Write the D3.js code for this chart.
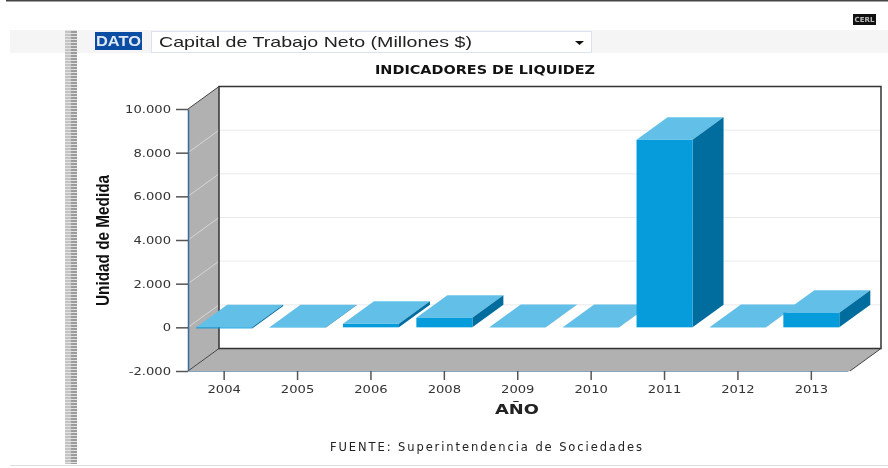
<!DOCTYPE html>
<html>
<head>
<meta charset="utf-8">
<script src="https://cdnjs.cloudflare.com/ajax/libs/d3/7.8.5/d3.min.js"></script>
<style>
  html, body { margin: 0; padding: 0; background: #fff; overflow: hidden; }
  svg { display: block; filter: blur(0.45px); }
  text { font-family: "DejaVu Sans", sans-serif; }
</style>
</head>
<body>
<svg id="chart" width="888" height="468"></svg>
<script>
// Chart data
const years = ["2004", "2005", "2006", "2008", "2009", "2010", "2011", "2012", "2013"];
const values = [-50, -15, 160, 440, 15, 15, 8590, 15, 670];
const yTicks = [-2000, 0, 2000, 4000, 6000, 8000, 10000];
const tickLabels = ["-2.000", "0", "2.000", "4.000", "6.000", "8.000", "10.000"];

const svg = d3.select("#chart");

// Scales, front plane of the 3d box
const x = d3.scaleBand().domain(years).range([187.5, 848]).paddingInner(0.237).paddingOuter(0.118);
const y = d3.scaleLinear().domain([-2000, 10000]).range([371, 109]);

// Depth of the box
const dx = 31;
const dy = -22.5;
const wallColor = "#b1b1b1";

// Squeeze or stretch a text to a given width
const fit = (sel, len) => sel.attr("textLength", len).attr("lengthAdjust", "spacingAndGlyphs");

// Page furniture
svg.append("rect").attr("x", 6).attr("y", 0).attr("width", 882).attr("height", 1.5).attr("fill", "#444");
svg.append("rect").attr("x", 10).attr("y", 30).attr("width", 878).attr("height", 23).attr("fill", "#f5f5f5");
svg.append("rect").attr("x", 10).attr("y", 465).attr("width", 878).attr("height", 1).attr("fill", "#ddd");

// Striped handle on the left
svg.append("rect").attr("x", 65).attr("y", 30).attr("width", 6).attr("height", 434).attr("fill", "#c4c4c4");
svg.append("rect").attr("x", 71).attr("y", 30).attr("width", 6).attr("height", 434).attr("fill", "#9c9c9c");
svg.selectAll(".stripe")
  .data(d3.range(30, 464, 3))
  .enter().append("rect")
  .attr("class", "stripe")
  .attr("x", 65).attr("y", d => d).attr("width", 12).attr("height", 1)
  .attr("fill", "#e2e2e2");

// Small button top right
svg.append("rect").attr("x", 853).attr("y", 14).attr("width", 23).attr("height", 11).attr("fill", "#111");
svg.append("text").attr("x", 864.5).attr("y", 22).attr("text-anchor", "middle")
  .attr("font-size", 7).attr("font-weight", "bold").attr("fill", "#bbb").text("CERL");

// Selector row
svg.append("rect").attr("x", 95).attr("y", 32).attr("width", 47).attr("height", 18).attr("fill", "#0b4da2");
fit(svg.append("text").attr("x", 96).attr("y", 46)
  .attr("font-size", 14).attr("font-weight", "bold").attr("fill", "#dfe8f5")
  .style("font-family", "Liberation Sans").text("DATO"), 45);
svg.append("rect").attr("x", 151.5).attr("y", 31.5).attr("width", 440).attr("height", 21)
  .attr("fill", "#fff").attr("stroke", "#dde3ee");
fit(svg.append("text").attr("x", 159).attr("y", 47).attr("font-size", 15).attr("fill", "#222")
  .style("font-family", "Liberation Sans").text("Capital de Trabajo Neto (Millones $)"), 313);
svg.append("path").attr("d", "M575,41h9l-4.5,4z").attr("fill", "#111");

// Title
fit(svg.append("text").attr("x", 375).attr("y", 74)
  .attr("font-size", 12.5).attr("font-weight", "bold").attr("fill", "#111")
  .text("INDICADORES DE LIQUIDEZ"), 220);

// Left wall and floor
const x0 = 188, x1 = 850;
const yTop = y(10000), yBot = y(-2000);
svg.append("path")
  .attr("d", `M${x0},${yBot}L${x0},${yTop}L${x0 + dx},${yTop + dy}L${x0 + dx},${yBot + dy}Z`)
  .attr("fill", wallColor);
svg.append("path")
  .attr("d", `M${x0},${yBot}L${x0 + dx},${yBot + dy}L${x1 + dx},${yBot + dy}L${x1},${yBot}Z`)
  .attr("fill", wallColor);

// Back wall
svg.append("rect")
  .attr("x", x0 + dx).attr("y", yTop + dy)
  .attr("width", x1 - x0).attr("height", yBot - yTop)
  .attr("fill", "#fff");

// Grid lines on the back wall and the left wall
const grid = yTicks.slice(1, -1);
svg.selectAll(".grid-back")
  .data(grid)
  .enter().append("line")
  .attr("class", "grid-back")
  .attr("x1", x0 + dx).attr("x2", x1 + dx)
  .attr("y1", d => y(d) + dy).attr("y2", d => y(d) + dy)
  .attr("stroke", "#eaeaea");
svg.selectAll(".grid-side")
  .data(grid)
  .enter().append("line")
  .attr("class", "grid-side")
  .attr("x1", x0).attr("x2", x0 + dx)
  .attr("y1", d => y(d)).attr("y2", d => y(d) + dy)
  .attr("stroke", "#d6d6d6");

// Box outline
svg.append("path")
  .attr("d", `M${x0 + dx},${yBot + dy}V${yTop + dy}H${x1 + dx}V${yBot + dy}Z`)
  .attr("fill", "none").attr("stroke", "#333").attr("stroke-width", 1.5);
svg.append("path")
  .attr("d", `M${x0},${yTop}L${x0 + dx},${yTop + dy}M${x0},${yBot}L${x0 + dx},${yBot + dy}M${x1},${yBot}L${x1 + dx},${yBot + dy}`)
  .attr("stroke", "#444").attr("fill", "none");

// Axes
const yAxis = d3.axisLeft(y)
  .tickValues(yTicks)
  .tickFormat((d, i) => tickLabels[i])
  .tickSize(12)
  .tickSizeOuter(0)
  .tickPadding(5);
const xAxis = d3.axisBottom(x).tickSize(9).tickSizeOuter(0).tickPadding(6);

const gy = svg.append("g").attr("transform", `translate(${x0},0)`).call(yAxis);
const gx = svg.append("g").attr("transform", `translate(0,${yBot})`).call(xAxis);
gy.select(".domain").attr("stroke", "#3a6a9c").attr("stroke-width", 1.5);
gx.select(".domain").attr("stroke", "#8aa6c2").attr("stroke-width", 1);
[gy, gx].forEach(g => {
  g.selectAll(".tick line").attr("stroke", "#555").attr("stroke-width", 1.5);
  g.selectAll(".tick text")
    .attr("font-size", 10.5).attr("fill", "#333")
    .each(function() {
      // labels in the picture are wider than the font
      fit(d3.select(this), this.getComputedTextLength() * 1.25);
    });
});

// Bars, left to right so each one covers its neighbour's top
const bars = svg.selectAll(".bar")
  .data(years.map((year, i) => ({ year, value: values[i] })))
  .enter().append("g")
  .attr("class", "bar");

const w = x.bandwidth();
// top face
bars.append("path")
  .attr("d", d => {
    const l = x(d.year), t = y(Math.max(d.value, 0));
    return `M${l},${t}L${l + dx},${t + dy}L${l + w + dx},${t + dy}L${l + w},${t}Z`;
  })
  .attr("fill", "#62bfe8");
// side face
bars.append("path")
  .attr("d", d => {
    const r = x(d.year) + w, t = y(Math.max(d.value, 0)), b = y(Math.min(d.value, 0));
    return `M${r},${t}L${r + dx},${t + dy}L${r + dx},${b + dy}L${r},${b}Z`;
  })
  .attr("fill", "#006d9e");
// front face
bars.append("rect")
  .attr("x", d => x(d.year))
  .attr("y", d => y(Math.max(d.value, 0)))
  .attr("width", w)
  .attr("height", d => Math.abs(y(d.value) - y(0)))
  .attr("fill", "#069cdc");

// Axis titles
fit(svg.append("text")
  .attr("transform", "translate(109,306) rotate(-90)")
  .attr("font-size", 18).attr("font-weight", "bold").attr("fill", "#111")
  .style("font-family", "Liberation Sans")
  .text("Unidad de Medida"), 131);
fit(svg.append("text").attr("x", 495).attr("y", 414)
  .attr("font-size", 14.5).attr("font-weight", "bold").attr("fill", "#222").text("AÑO"), 44);
svg.append("text").attr("x", 330).attr("y", 451)
  .attr("font-size", 11.5).attr("fill", "#222").attr("textLength", 312)
  .text("FUENTE: Superintendencia de Sociedades");
</script>
</body>
</html>
